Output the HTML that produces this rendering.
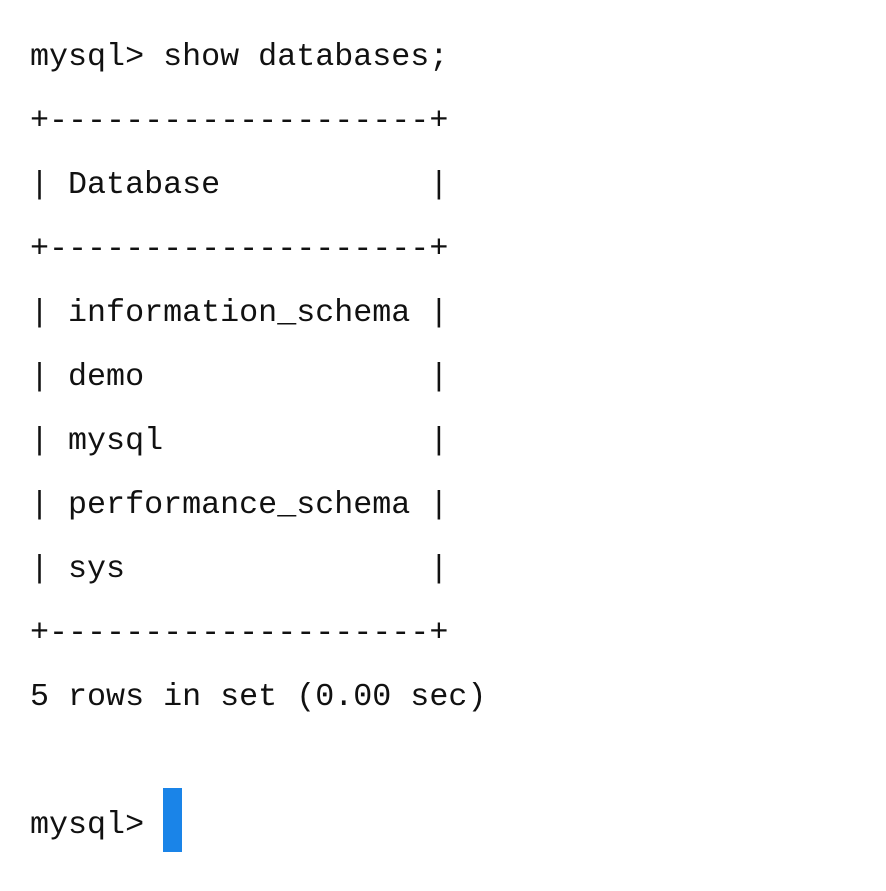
<!DOCTYPE html>
<html>
<head>
<meta charset="utf-8">
<style>
  html,body{margin:0;padding:0;background:#fff;}
  body{width:886px;height:891px;position:relative;overflow:hidden;}
  pre{
    position:absolute;left:30px;top:25px;margin:0;
    font-family:"Liberation Mono",monospace;
    font-size:31.7px;line-height:64px;color:#111;
  }
  .cur{position:absolute;left:163px;top:788px;width:19px;height:64px;background:#1a84e8;}
</style>
</head>
<body>
<pre>mysql&gt; show databases;
+--------------------+
| Database           |
+--------------------+
| information_schema |
| demo               |
| mysql              |
| performance_schema |
| sys                |
+--------------------+
5 rows in set (0.00 sec)

mysql&gt; </pre>
<div class="cur"></div>
</body>
</html>
